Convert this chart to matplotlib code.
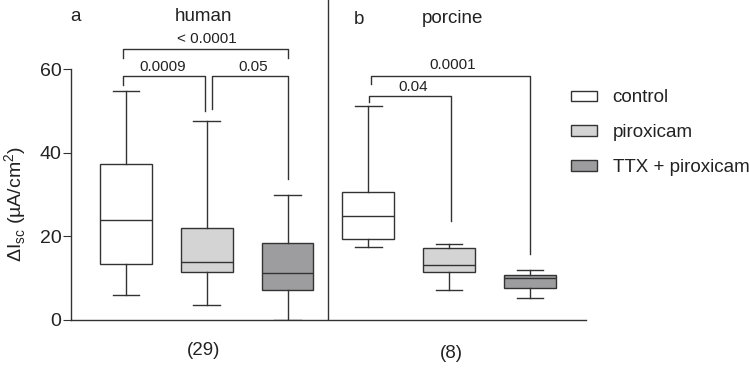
import matplotlib.pyplot as plt

plt.rcParams['font.family'] = ['Liberation Sans', 'DejaVu Sans']

# box summaries: min, q1, median, q3, max
groups = ["control", "piroxicam", "TTX + piroxicam"]
human_min = [5.9, 3.5, 0.0]
human_q1 = [13.4, 11.4, 7.3]
human_med = [23.9, 13.8, 11.2]
human_q3 = [37.4, 22.1, 18.5]
human_max = [54.7, 47.6, 30.0]

porcine_min = [17.4, 7.2, 5.2]
porcine_q1 = [19.4, 11.6, 7.6]
porcine_med = [24.8, 13.2, 10.0]
porcine_q3 = [30.6, 17.3, 10.8]
porcine_max = [51.2, 18.3, 12.0]

fills = ["white", "#d4d4d4", "#9d9da0"]
line_col = "#333333"
txt_col = "#222222"

fig = plt.figure(figsize=(7.5, 3.68), dpi=100)
ax = fig.add_axes([71 / 750, 48 / 368, (585.7 - 71) / 750, 320 / 368])

stats = []
for lo, q1, med, q3, hi in zip(human_min + porcine_min, human_q1 + porcine_q1,
                               human_med + porcine_med, human_q3 + porcine_q3,
                               human_max + porcine_max):
    stats.append(dict(whislo=lo, q1=q1, med=med, q3=q3, whishi=hi))

positions = [1, 2, 3, 4, 5, 6]
lp = dict(color=line_col, linewidth=1.0)
res = ax.bxp(stats, positions=positions, widths=0.64, showfliers=False,
             patch_artist=True, boxprops=dict(edgecolor=line_col, linewidth=1.0),
             medianprops=lp, whiskerprops=lp, capprops=lp, capwidths=0.33)
for i, b in enumerate(res['boxes']):
    b.set_facecolor(fills[i % 3])

ax.set_xlim(0.32, 6.69)
ax.set_ylim(0, 76.6)
ax.axvline(3.5, color=line_col, linewidth=1.0)

ax.spines['top'].set_visible(False)
ax.spines['right'].set_visible(False)
ax.spines['left'].set_bounds(0, 60)
for s in ['left', 'bottom']:
    ax.spines[s].set_color(line_col)
    ax.spines[s].set_linewidth(1.0)
ax.set_yticks([0, 20, 40, 60])
ax.set_xticks([])
ax.tick_params(axis='y', labelsize=14, length=6, pad=1, color=line_col, labelcolor=txt_col)
ax.set_ylabel('ΔI$_{\\mathregular{sc}}$ (µA/cm$^{\\mathregular{2}}$)', fontsize=14,
              color=txt_col)
ax.yaxis.set_label_coords(-0.082, 27.8 / 76.6)


def bracket(x1, x2, y, d1, d2, label, tx, ty):
    ax.plot([x1, x1, x2, x2], [d1, y, y, d2], color=line_col, linewidth=1.0, clip_on=False)
    ax.text(tx, ty, label, ha='center', va='center', fontsize=11, color=txt_col)


bracket(0.96, 1.98, 58.4, 56.2, 50.0, "0.0009", 1.46, 60.6)
bracket(2.07, 3.0, 58.4, 50.5, 33.7, "0.05", 2.58, 60.6)
bracket(0.96, 3.0, 64.8, 62.6, 62.6, "< 0.0001", 2.0, 67.2)
bracket(4.01, 5.02, 53.6, 52.3, 23.8, "0.04", 4.55, 55.7)
bracket(4.03, 6.0, 58.4, 56.4, 15.8, "0.0001", 5.05, 61.0)

ax.text(0.37, 72.6, "a", fontsize=13.5, ha='center', va='center', color=txt_col)
ax.text(1.96, 72.6, "human", fontsize=13.5, ha='center', va='center', color=txt_col)
ax.text(3.89, 71.9, "b", fontsize=13.5, ha='center', va='center', color=txt_col)
ax.text(5.04, 72.1, "porcine", fontsize=13.5, ha='center', va='center', color=txt_col)
ax.text(1.96, -7.3, "(29)", fontsize=13.5, ha='center', va='center', color=txt_col)
ax.text(5.03, -8.0, "(8)", fontsize=13.5, ha='center', va='center', color=txt_col)

handles = [plt.Rectangle((0, 0), 1, 1, facecolor=f, edgecolor=line_col, linewidth=1.0)
           for f in fills]
fig.legend(handles, groups, loc='upper left', bbox_to_anchor=(563 / 750, 1 - 82 / 368),
           frameon=False, fontsize=13.5, handlelength=1.4, handleheight=0.5,
           labelspacing=0.95, handletextpad=0.85, labelcolor=txt_col,
           borderaxespad=0, borderpad=0.4)

fig.savefig("out.png", dpi=100)
